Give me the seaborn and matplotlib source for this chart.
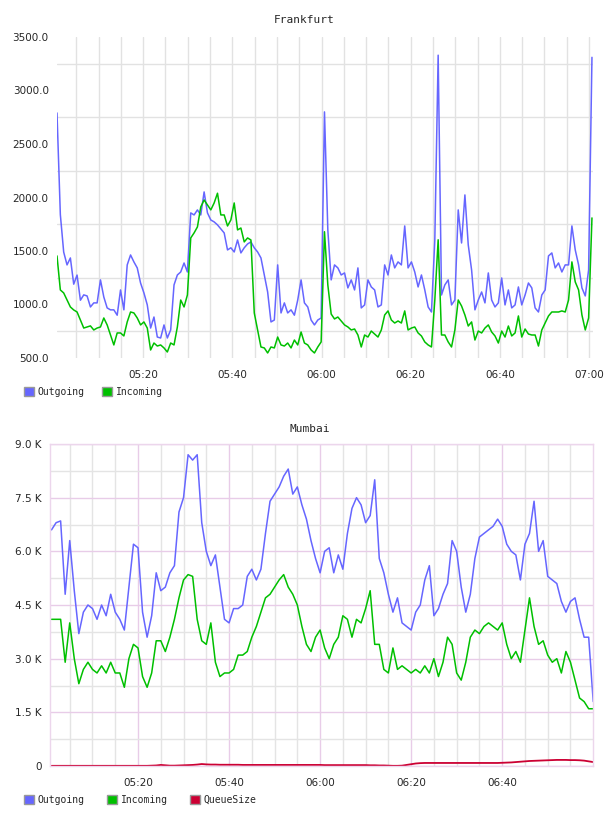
import pandas as pd
import matplotlib
matplotlib.use("Agg")
import matplotlib.pyplot as plt
import matplotlib.dates as mdates
from matplotlib.patches import Patch
from matplotlib.ticker import FixedLocator, FuncFormatter
import seaborn as sns

# Frankfurt: one sample every 45 s starting 05:00:40
FRA_START = "2024-01-01 05:00:40"
FRA_OUT = [2790, 1840, 1490, 1370, 1435, 1190, 1275, 1040, 1090, 1080,
           977, 1015, 1015, 1230, 1070, 968, 950, 950, 900, 1136,
           950, 1370, 1463, 1398, 1342, 1200, 1108, 996, 780, 883,
           696, 687, 809, 687, 762, 1183, 1276, 1304, 1388, 1304,
           1856, 1837, 1884, 1837, 2052, 1856, 1790, 1772, 1744, 1706,
           1669, 1510, 1530, 1491, 1603, 1482, 1530, 1566, 1585, 1530,
           1491, 1435, 1276, 1117, 837, 855, 1370, 921, 1015, 921,
           950, 900, 1042, 1230, 1015, 977, 855, 809, 855, 874,
           2800, 1697, 1230, 1370, 1342, 1276, 1295, 1155, 1230, 1136,
           1342, 968, 996, 1230, 1164, 1136, 977, 996, 1370, 1276,
           1463, 1342, 1398, 1370, 1734, 1342, 1398, 1304, 1164, 1276,
           1136, 977, 930, 1603, 3330, 1089, 1183, 1230, 996, 1042,
           1884, 1575, 2024, 1557, 1323, 950, 1042, 1117, 1015, 1295,
           1042, 977, 1015, 1248, 996, 1136, 968, 996, 1164, 996,
           1089, 1201, 1155, 968, 930, 1089, 1136, 1454, 1482, 1342,
           1388, 1304, 1370, 1370, 1734, 1510, 1370, 1155, 1080, 1323,
           3310]
FRA_IN = [1454, 1136, 1108, 1042, 977, 949, 930, 855, 780, 790,
          800, 762, 780, 790, 874, 809, 715, 622, 734, 734,
          706, 837, 930, 921, 874, 809, 837, 780, 575, 640,
          612, 622, 594, 556, 640, 622, 790, 1042, 977, 1089,
          1622, 1669, 1725, 1912, 1977, 1931, 1884, 1949, 2040, 1837,
          1837, 1734, 1790, 1949, 1697, 1715, 1585, 1622, 1603, 921,
          762, 603, 594, 547, 603, 594, 696, 622, 612, 640,
          594, 668, 622, 743, 640, 622, 575, 547, 603, 650,
          1680, 1183, 911, 865, 883, 846, 809, 790, 762, 771,
          715, 603, 715, 696, 752, 724, 696, 762, 902, 940,
          855, 827, 846, 827, 940, 762, 780, 790, 734, 706,
          650, 622, 603, 1042, 1605, 715, 715, 650, 603, 762,
          1042, 986, 902, 799, 837, 668, 752, 734, 780, 809,
          743, 706, 640, 752, 696, 799, 706, 734, 893, 696,
          771, 724, 715, 715, 612, 762, 827, 893, 930, 930,
          930, 940, 930, 1042, 1398, 1211, 1136, 902, 762, 874,
          1809]

# Mumbai: one sample per minute starting 05:01
MUM_START = "2024-01-01 05:01:00"
MUM_OUT = [6600, 6800, 6850, 4800, 6300, 4900, 3700, 4300, 4500, 4400,
           4100, 4500, 4200, 4800, 4300, 4100, 3800, 5000, 6200, 6100,
           4300, 3600, 4200, 5400, 4900, 5000, 5400, 5600, 7100, 7500,
           8700, 8550, 8700, 6800, 6000, 5600, 5900, 5000, 4100, 4000,
           4400, 4400, 4500, 5300, 5500, 5200, 5500, 6500, 7400, 7600,
           7800, 8100, 8300, 7600, 7800, 7300, 6900, 6300, 5800, 5400,
           6000, 6100, 5400, 5900, 5500, 6500, 7200, 7500, 7300, 6800,
           7000, 8000, 5800, 5400, 4800, 4300, 4700, 4000, 3900, 3800,
           4300, 4500, 5200, 5600, 4200, 4400, 4800, 5100, 6300, 6000,
           5000, 4300, 4800, 5800, 6400, 6500, 6600, 6700, 6900, 6700,
           6200, 6000, 5900, 5200, 6200, 6500, 7400, 6000, 6300, 5300,
           5200, 5100, 4600, 4300, 4600, 4700, 4100, 3600, 3600, 1800]
MUM_IN = [4100, 4100, 4100, 2900, 4000, 3000, 2300, 2700, 2900, 2700,
          2600, 2800, 2600, 2900, 2600, 2600, 2200, 3000, 3400, 3300,
          2500, 2200, 2600, 3500, 3500, 3200, 3600, 4100, 4700, 5200,
          5350, 5300, 4100, 3500, 3400, 4000, 2900, 2500, 2600, 2600,
          2700, 3100, 3100, 3200, 3600, 3900, 4300, 4700, 4800, 5000,
          5200, 5350, 5000, 4800, 4500, 3900, 3400, 3200, 3600, 3800,
          3300, 3000, 3400, 3600, 4200, 4100, 3600, 4100, 4000, 4400,
          4900, 3400, 3400, 2700, 2600, 3300, 2700, 2800, 2700, 2600,
          2700, 2600, 2800, 2600, 3000, 2500, 2900, 3600, 3400, 2600,
          2400, 2900, 3600, 3800, 3700, 3900, 4000, 3900, 3800, 4000,
          3400, 3000, 3200, 2900, 3800, 4700, 3900, 3400, 3500, 3100,
          2900, 3000, 2600, 3200, 2900, 2400, 1900, 1800, 1600, 1600]
MUM_QUEUE = [5, 5, 5, 5, 5, 5, 5, 5, 5, 5,
             5, 5, 5, 5, 5, 5, 5, 5, 5, 5,
             5, 5, 10, 15, 30, 20, 10, 10, 15, 20,
             25, 30, 40, 55, 45, 40, 40, 35, 35, 35,
             35, 35, 30, 30, 30, 30, 30, 30, 30, 30,
             30, 30, 30, 30, 30, 30, 30, 30, 30, 30,
             25, 25, 25, 25, 25, 25, 25, 25, 25, 25,
             20, 20, 15, 15, 10, 5, 5, 10, 30, 50,
             70, 80, 85, 85, 85, 85, 85, 85, 85, 85,
             85, 85, 85, 85, 85, 85, 85, 85, 85, 90,
             95, 100, 110, 120, 130, 140, 145, 150, 155, 160,
             165, 170, 170, 170, 165, 165, 160, 150, 130, 110]

BLUE = "#6666ff"
GREEN = "#00c000"
RED = "#cc0033"
MINOR_MINUTES = [5, 10, 15, 25, 30, 35, 45, 50, 55]

sns.set_style("white")
plt.rcParams["font.family"] = "DejaVu Sans"

W, H = 608, 816
fig = plt.figure(figsize=(W / 100, H / 100), dpi=100)


def box(l, t, r, b):
    return [l / W, 1 - b / H, (r - l) / W, (b - t) / H]


fra = pd.DataFrame({
    "time": pd.date_range(FRA_START, periods=len(FRA_OUT), freq="45s"),
    "Outgoing": FRA_OUT,
    "Incoming": FRA_IN,
})
mum = pd.DataFrame({
    "time": pd.date_range(MUM_START, periods=len(MUM_OUT), freq="1min"),
    "Outgoing": MUM_OUT,
    "Incoming": MUM_IN,
    "QueueSize": MUM_QUEUE,
})

# --- Frankfurt ---
ax1 = fig.add_axes(box(57, 37, 593, 358))
sns.lineplot(data=fra, x="time", y="Outgoing", color=BLUE, lw=1.1, ax=ax1)
sns.lineplot(data=fra, x="time", y="Incoming", color=GREEN, lw=1.1, ax=ax1)
ax1.set_xlim(pd.Timestamp("2024-01-01 05:00:40"), pd.Timestamp("2024-01-01 07:00:54"))
ax1.set_ylim(500, 3500)
ax1.yaxis.set_major_locator(FixedLocator([500, 1000, 1500, 2000, 2500, 3000, 3500]))
ax1.yaxis.set_minor_locator(FixedLocator([750, 1250, 1750, 2250, 2750, 3250]))
ax1.yaxis.set_major_formatter(FuncFormatter(lambda v, p: f"{v:.1f}"))
ax1.xaxis.set_major_locator(mdates.MinuteLocator(byminute=[0, 20, 40]))
ax1.xaxis.set_minor_locator(mdates.MinuteLocator(byminute=MINOR_MINUTES))
ax1.xaxis.set_major_formatter(mdates.DateFormatter("%H:%M"))
ax1.grid(which="minor", color="#e2e2e2", lw=1)
ax1.grid(which="major", axis="x", color="#e2e2e2", lw=1)
ax1.set_axisbelow(True)
for s in ax1.spines.values():
    s.set_visible(False)
ax1.tick_params(which="both", length=0)
ax1.tick_params(axis="y", pad=6, labelsize=7.5)
ax1.tick_params(axis="x", pad=9, labelsize=7.5)
ax1.set_xlabel("")
ax1.set_ylabel("")
fig.text(304 / W, 1 - 20 / H, "Frankfurt", ha="center", va="center",
         family="DejaVu Sans Mono", fontsize=8)

# --- Mumbai ---
ax2 = fig.add_axes(box(50, 444, 593, 766))
sns.lineplot(data=mum, x="time", y="Outgoing", color=BLUE, lw=1.1, ax=ax2)
sns.lineplot(data=mum, x="time", y="Incoming", color=GREEN, lw=1.1, ax=ax2)
sns.lineplot(data=mum, x="time", y="QueueSize", color=RED, lw=1.3, ax=ax2)
ax2.set_xlim(pd.Timestamp("2024-01-01 05:00:40"), pd.Timestamp("2024-01-01 06:59:57"))
ax2.set_ylim(0, 9000)
ax2.yaxis.set_major_locator(FixedLocator([0, 1500, 3000, 4500, 6000, 7500, 9000]))
ax2.yaxis.set_minor_locator(FixedLocator([750, 2250, 3750, 5250, 6750, 8250]))
ax2.yaxis.set_major_formatter(FuncFormatter(lambda v, p: "0" if v == 0 else f"{v / 1000:.1f} K"))
ax2.xaxis.set_major_locator(mdates.MinuteLocator(byminute=[0, 20, 40]))
ax2.xaxis.set_minor_locator(mdates.MinuteLocator(byminute=MINOR_MINUTES))
ax2.xaxis.set_major_formatter(mdates.DateFormatter("%H:%M"))
ax2.grid(which="minor", color="#e4e4e4", lw=1)
ax2.grid(which="major", color="#e8cce8", lw=1)
ax2.set_axisbelow(True)
for s in ax2.spines.values():
    s.set_color("#ecd6ec")
    s.set_linewidth(1)
ax2.tick_params(which="both", length=0)
ax2.tick_params(axis="y", pad=6, labelsize=7.5)
ax2.tick_params(axis="x", pad=9, labelsize=7.5)
ax2.set_xlabel("")
ax2.set_ylabel("")
fig.text(310 / W, 1 - 429 / H, "Mumbai", ha="center", va="center",
         family="DejaVu Sans Mono", fontsize=8)


def legend(names, colors, y, spacing):
    handles = [Patch(facecolor=c, edgecolor="#999999", lw=1) for c in colors]
    fig.legend(handles, names, loc="center left", bbox_to_anchor=(24 / W, 1 - y / H),
               ncol=len(names), frameon=False, handlelength=1.0, handleheight=1.0,
               handletextpad=0.4, columnspacing=spacing, borderpad=0, borderaxespad=0,
               prop={"family": "DejaVu Sans Mono", "size": 7})


legend(["Outgoing", "Incoming"], [BLUE, GREEN], 392, 1.8)
legend(["Outgoing", "Incoming", "QueueSize"], [BLUE, GREEN, RED], 800, 2.3)

fig.savefig("out.png", dpi=100)
